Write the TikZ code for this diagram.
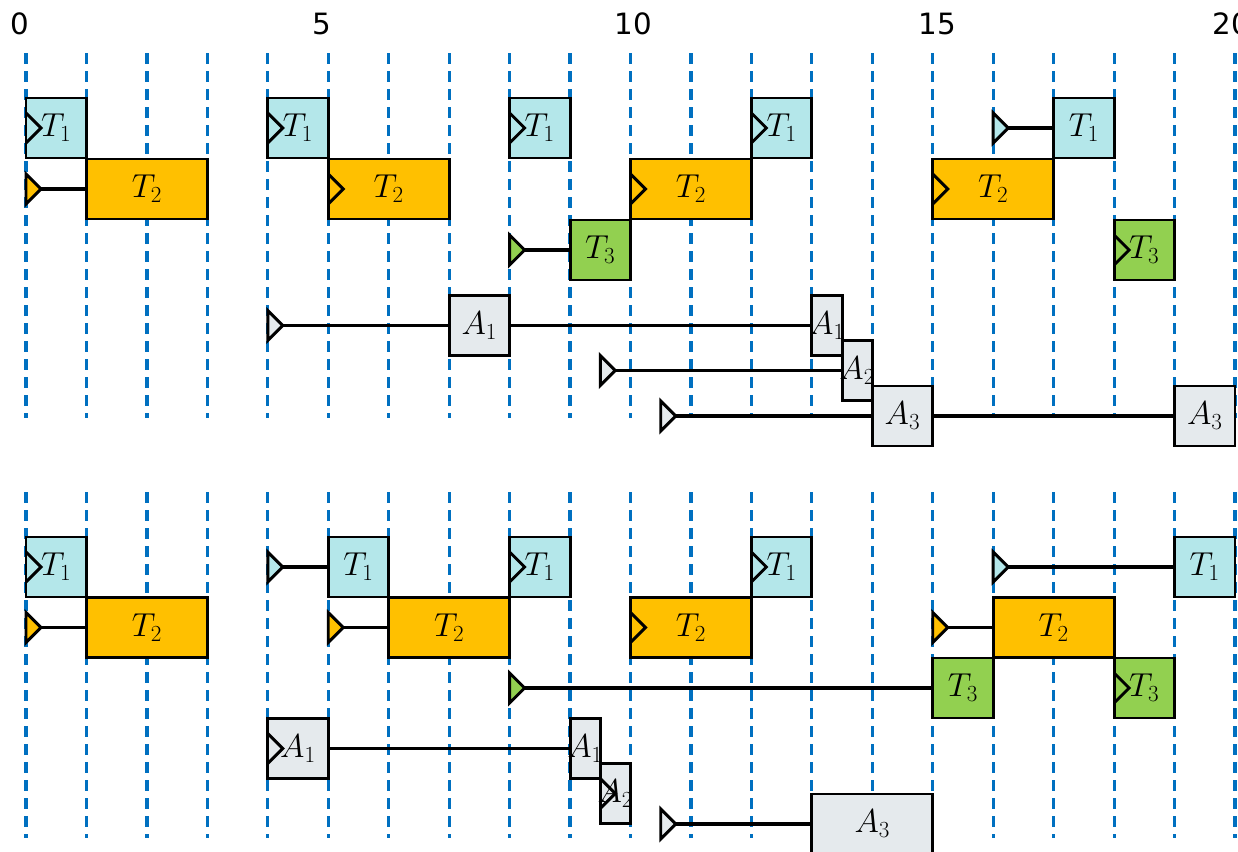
\documentclass[tikz,border=0pt]{standalone}
\usepackage{fontspec}
\newfontfamily\axisfont{DejaVu Sans}

\definecolor{gridblue}{RGB}{0,112,192}
\definecolor{taskone}{RGB}{180,231,234}
\definecolor{tasktwo}{RGB}{255,192,0}
\definecolor{taskthree}{RGB}{146,208,80}
\definecolor{aperiodic}{RGB}{229,234,237}

\tikzset{
  gridline/.style={gridblue, line width=2.4pt, dash pattern=on 8.25pt off 5.25pt},
  jobbox/.style={draw=black, line width=2.2pt, rectangle, minimum height=45pt,
                 inner sep=0pt, outer sep=0pt},
  joblabel/.style={font=\fontsize{24}{28}\selectfont, inner sep=0pt},
  relmark/.style={draw=black, line width=2.2pt, line join=miter},
  conn/.style={black, line width=2.4pt},
  ticklabel/.style={font=\axisfont\fontsize{22}{26}\selectfont, anchor=base, inner sep=0pt},
}

% job box: name, start, end, y (px), fill, label
\newcommand\jobbox[6]{%
  \node[jobbox, fill=#5, minimum width={(#3-#2)*45.3375pt}] (#1) at ({(#2+#3)/2},#4) {};
  \node[joblabel] (#1-text) at (#1.center) {#6};}
% release marker with a connector end at its tip: name, time, y, fill
\newcommand\release[4]{%
  \draw[relmark, fill=#4] (#2,#3-15) -- (#2+0.2481,#3) -- (#2,#3+15) -- cycle;
  \coordinate (#1) at (#2+0.2481,#3);}
% release marker on the left edge of a box: time, y
\newcommand\inrel[2]{%
  \draw[relmark] (#1,#2-15) -- (#1+0.2481,#2) -- (#1,#2+15);}

\begin{document}
\begin{tikzpicture}[x=0.75pt, y=-0.75pt]
\useasboundingbox (0,0) rectangle (1238,851);
\clip (0,0) rectangle (1238,851);

% time axis numbers
\node[ticklabel] (tick0)  at (20,34)   {0};
\node[ticklabel] (tick5)  at (322,34)  {5};
\node[ticklabel] (tick10) at (633,34)  {10};
\node[ticklabel] (tick15) at (937,34)  {15};
\node[ticklabel] (tick20) at (1231,34) {20};

\begin{scope}[shift={(19.5pt,0pt)}, x=45.3375pt]
  % time grid
  \foreach \t in {0,...,20} {
    \draw[gridline] (\t,53) -- (\t,418);
    \draw[gridline] (\t,492) -- (\t,838);
  }

  % ---------------- upper schedule ----------------
  % T1
  \jobbox{ua1}{0}{1}{128}{taskone}{$T_1$}   \inrel{0}{128}
  \jobbox{ua2}{4}{5}{128}{taskone}{$T_1$}   \inrel{4}{128}
  \jobbox{ua3}{8}{9}{128}{taskone}{$T_1$}   \inrel{8}{128}
  \jobbox{ua4}{12}{13}{128}{taskone}{$T_1$} \inrel{12}{128}
  \release{ura5}{16}{128}{taskone}
  \jobbox{ua5}{17}{18}{128}{taskone}{$T_1$}
  \draw[conn] (ura5) -- (ua5.west);
  % T2
  \release{urb1}{0}{189}{tasktwo}
  \jobbox{ub1}{1}{3}{189}{tasktwo}{$T_2$}
  \draw[conn] (urb1) -- (ub1.west);
  \jobbox{ub2}{5}{7}{189}{tasktwo}{$T_2$}   \inrel{5}{189}
  \jobbox{ub3}{10}{12}{189}{tasktwo}{$T_2$} \inrel{10}{189}
  \jobbox{ub4}{15}{17}{189}{tasktwo}{$T_2$} \inrel{15}{189}
  % T3
  \release{urc1}{8}{250}{taskthree}
  \jobbox{uc1}{9}{10}{250}{taskthree}{$T_3$}
  \draw[conn] (urc1) -- (uc1.west);
  \jobbox{uc2}{18}{19}{250}{taskthree}{$T_3$} \inrel{18}{250}
  % A1
  \release{urd1}{4}{325.5}{aperiodic}
  \jobbox{ud1}{7}{8}{325.5}{aperiodic}{$A_1$}
  \draw[conn] (urd1) -- (ud1.west);
  \jobbox{ud2}{13}{13.5}{325.5}{aperiodic}{$A_1$}
  \draw[conn] (ud1.east) -- (ud2.west);
  % A2
  \release{ure1}{9.5}{370.5}{aperiodic}
  \jobbox{ue1}{13.5}{14}{370.5}{aperiodic}{$A_2$}
  \draw[conn] (ure1) -- (ue1.west);
  % A3
  \release{urf1}{10.5}{416}{aperiodic}
  \jobbox{uf1}{14}{15}{416}{aperiodic}{$A_3$}
  \draw[conn] (urf1) -- (uf1.west);
  \jobbox{uf2}{19}{20}{416}{aperiodic}{$A_3$}
  \draw[conn] (uf1.east) -- (uf2.west);

  % ---------------- lower schedule ----------------
  % T1
  \jobbox{la1}{0}{1}{567}{taskone}{$T_1$} \inrel{0}{567}
  \release{lra2}{4}{567}{taskone}
  \jobbox{la2}{5}{6}{567}{taskone}{$T_1$}
  \draw[conn] (lra2) -- (la2.west);
  \jobbox{la3}{8}{9}{567}{taskone}{$T_1$}   \inrel{8}{567}
  \jobbox{la4}{12}{13}{567}{taskone}{$T_1$} \inrel{12}{567}
  \release{lra5}{16}{567}{taskone}
  \jobbox{la5}{19}{20}{567}{taskone}{$T_1$}
  \draw[conn] (lra5) -- (la5.west);
  % T2
  \release{lrb1}{0}{627.5}{tasktwo}
  \jobbox{lb1}{1}{3}{627.5}{tasktwo}{$T_2$}
  \draw[conn] (lrb1) -- (lb1.west);
  \release{lrb2}{5}{627.5}{tasktwo}
  \jobbox{lb2}{6}{8}{627.5}{tasktwo}{$T_2$}
  \draw[conn] (lrb2) -- (lb2.west);
  \jobbox{lb3}{10}{12}{627.5}{tasktwo}{$T_2$} \inrel{10}{627.5}
  \release{lrb4}{15}{627.5}{tasktwo}
  \jobbox{lb4}{16}{18}{627.5}{tasktwo}{$T_2$}
  \draw[conn] (lrb4) -- (lb4.west);
  % T3
  \release{lrc1}{8}{688}{taskthree}
  \jobbox{lc1}{15}{16}{688}{taskthree}{$T_3$}
  \draw[conn] (lrc1) -- (lc1.west);
  \jobbox{lc2}{18}{19}{688}{taskthree}{$T_3$} \inrel{18}{688}
  % A1
  \jobbox{ld1}{4}{5}{748.5}{aperiodic}{$A_1$} \inrel{4}{748.5}
  \jobbox{ld2}{9}{9.5}{748.5}{aperiodic}{$A_1$}
  \draw[conn] (ld1.east) -- (ld2.west);
  % A2
  \jobbox{le1}{9.5}{10}{793.5}{aperiodic}{$A_2$} \inrel{9.5}{793.5}
  % A3
  \release{lrf1}{10.5}{824}{aperiodic}
  \jobbox{lf1}{13}{15}{824}{aperiodic}{$A_3$}
  \draw[conn] (lrf1) -- (lf1.west);
\end{scope}
\end{tikzpicture}
\end{document}
